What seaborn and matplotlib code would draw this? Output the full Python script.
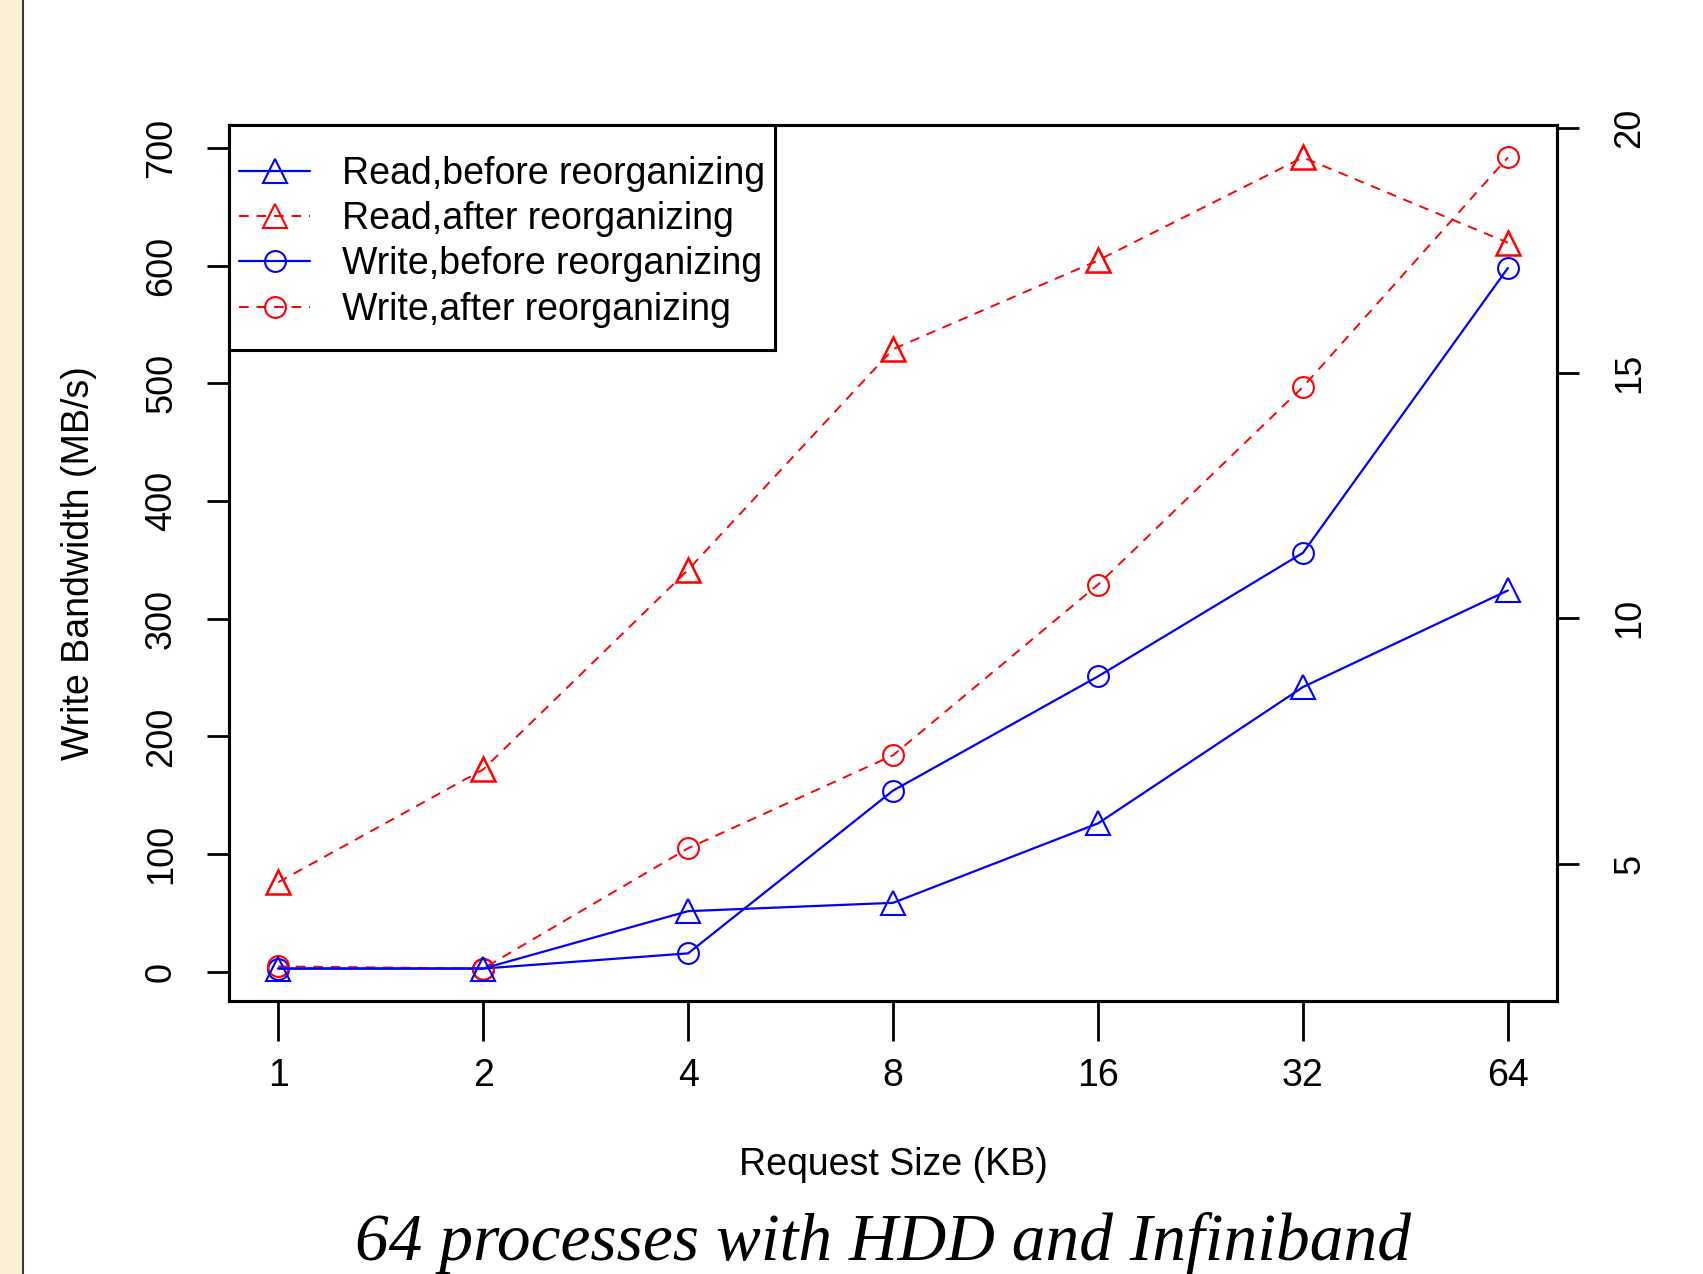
import numpy as np
import matplotlib
matplotlib.use('Agg')
import matplotlib.pyplot as plt
from matplotlib.patches import Rectangle
from matplotlib.lines import Line2D
import seaborn as sns

# ── 1. Values ──────────────────────────────────────────────
request_kb = [1, 2, 4, 8, 16, 32, 64]

# write bandwidth, left axis (MB/s)
write_before = [2.8, 2.8, 15.7, 154, 251, 356, 598]
write_after = [4.6, 2.8, 105, 184, 329, 497, 692]

# read bandwidth, right axis
read_before = [2.86, 2.86, 4.03, 4.20, 5.82, 8.60, 10.57]
read_after = [4.62, 6.92, 10.99, 15.49, 17.30, 19.40, 17.66]

left_ticks = [0, 100, 200, 300, 400, 500, 600, 700]
right_ticks = [5, 10, 15, 20]

labels = ['Read,before reorganizing', 'Read,after reorganizing',
          'Write,before reorganizing', 'Write,after reorganizing']
caption = '64 processes with HDD and Infiniband'


def r_lim(lo, hi):
    # R style 4% padding
    pad = 0.04 * (hi - lo)
    return lo - pad, hi + pad


# ── 2. Style ───────────────────────────────────────────────
sns.set_style('white')
plt.rcParams['font.family'] = ['Liberation Sans', 'DejaVu Sans']
plt.rcParams['text.color'] = 'black'
plt.rcParams['axes.labelcolor'] = 'black'
plt.rcParams['xtick.color'] = 'black'
plt.rcParams['ytick.color'] = 'black'

fig = plt.figure(figsize=(17.03, 12.74), dpi=100)
ax = fig.add_axes([0.1345, 0.2143, 0.7798, 0.6876])
ax2 = ax.twinx()

solid = dict(lw=1.6)
dashed = dict(lw=1.4, linestyle=(0, (5, 4)))

# ── 3. Lines ───────────────────────────────────────────────
sns.lineplot(x=request_kb, y=write_before, ax=ax, color='blue', marker='o',
             ms=15, mfc='none', mec='blue', mew=1.5, **solid)
sns.lineplot(x=request_kb, y=write_after, ax=ax, color='red', marker='o',
             ms=15, mfc='none', mec='red', mew=1.5, **dashed)
sns.lineplot(x=request_kb, y=read_before, ax=ax2, color='blue', marker='^',
             ms=17, mfc='none', mec='blue', mew=1.5, **solid)
sns.lineplot(x=request_kb, y=read_after, ax=ax2, color='red', marker='^',
             ms=17, mfc='none', mec='red', mew=1.8, **dashed)

# ── 4. Axes ────────────────────────────────────────────────
ax.set_xscale('log', base=2)
lo, hi = r_lim(np.log2(request_kb[0]), np.log2(request_kb[-1]))
ax.set_xlim(2 ** lo, 2 ** hi)
ax.set_xticks(request_kb)
ax.set_xticklabels([str(v) for v in request_kb])
ax.minorticks_off()

wvals = write_before + write_after
ax.set_ylim(*r_lim(min(wvals), max(wvals)))
ax.set_yticks(left_ticks)
ax.set_yticklabels([str(v) for v in left_ticks], rotation=90, va='center')

rvals = read_before + read_after
ax2.set_ylim(*r_lim(min(rvals), max(rvals)))
ax2.set_yticks(right_ticks)
ax2.set_yticklabels([str(v) for v in right_ticks], rotation=90, va='center')

for a in (ax, ax2):
    for s in a.spines.values():
        s.set_linewidth(2.2)
        s.set_color('black')

ax.tick_params(axis='x', length=29, width=2, pad=12, labelsize=27, direction='out')
ax.tick_params(axis='y', length=16, width=2, pad=20, labelsize=26, direction='out')
ax2.tick_params(axis='y', length=16, width=2, pad=24, labelsize=26, direction='out')
ax.xaxis.set_ticks_position('bottom')
ax.yaxis.set_ticks_position('left')

ax.set_xlabel('Request Size (KB)', fontsize=27, labelpad=38)
ax.set_ylabel('Write Bandwidth (MB/s)', fontsize=27, labelpad=34)
ax2.set_ylabel('')

# ── 5. Legend (R style box: tight sides, roomy top/bottom) ─
handles = [
    Line2D([], [], color='blue', marker='^', ms=17, mfc='none', mew=1.5, **solid),
    Line2D([], [], color='red', marker='^', ms=17, mfc='none', mew=1.5, **dashed),
    Line2D([], [], color='blue', marker='o', ms=15, mfc='none', mew=1.5, **solid),
    Line2D([], [], color='red', marker='o', ms=15, mfc='none', mew=1.5, **dashed),
]
if ax2.get_legend():
    ax2.get_legend().remove()

ax2.add_patch(Rectangle((0, 1 - 0.257), 0.411, 0.257, transform=ax2.transAxes,
                        facecolor='white', edgecolor='black', lw=2.2,
                        zorder=4, clip_on=False))
leg = ax2.legend(handles, labels, loc='upper left',
                 bbox_to_anchor=(0.0075, 1 - 0.035), borderaxespad=0,
                 borderpad=0, fontsize=27, frameon=False,
                 handlelength=1.9, handletextpad=0.85, labelspacing=0.25)
leg.set_zorder(5)

# ── 6. Caption and page strip ─────────────────────────────
fig.text(0.5185, 0.024, caption, ha='center', va='center', fontsize=48.5,
         style='italic', family=['Liberation Serif', 'DejaVu Serif'])

fig.add_artist(Rectangle((0, 0), 22 / 1703, 1, transform=fig.transFigure,
                         facecolor='#FBEFD6', edgecolor='none'))
fig.add_artist(Line2D([23 / 1703, 23 / 1703], [0, 1], transform=fig.transFigure,
                      color='#3a3a3a', lw=1.5))

fig.savefig('out.png', dpi=100)
